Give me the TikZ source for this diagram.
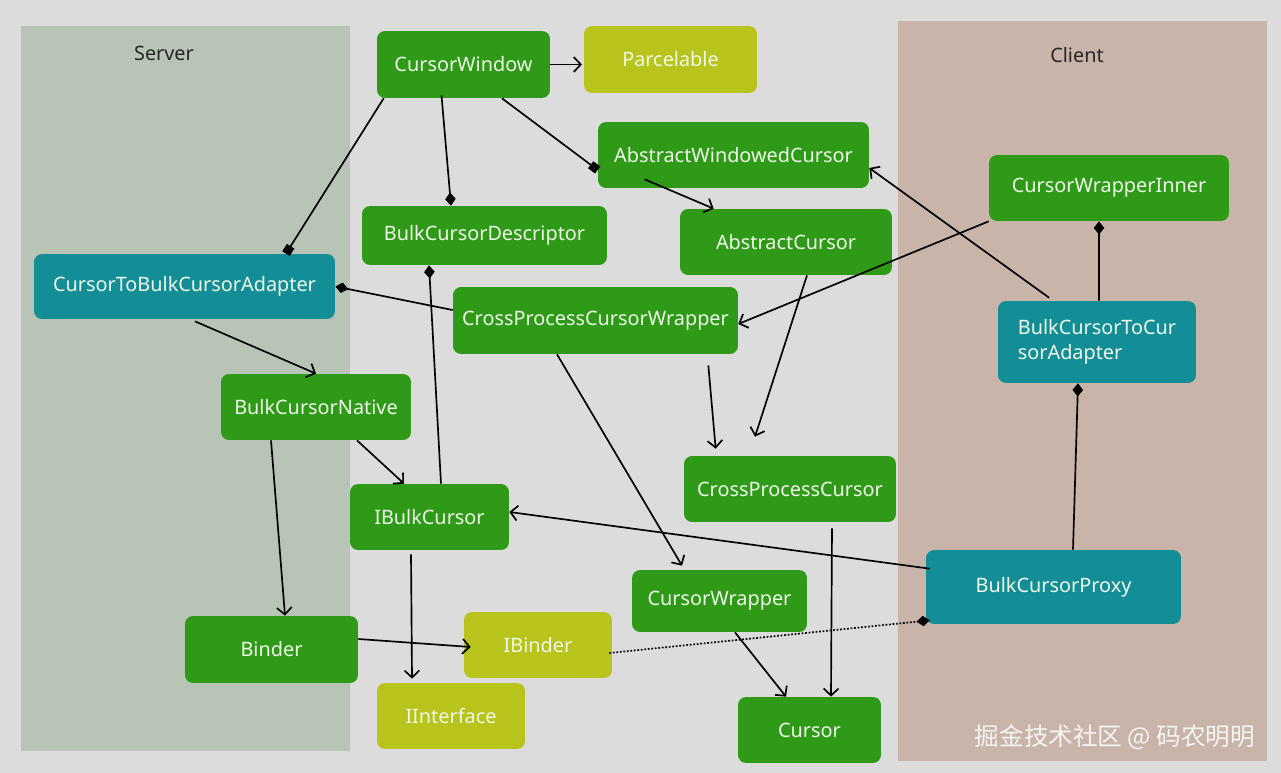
\documentclass[tikz,border=0pt]{standalone}
\usepackage{fontspec}
\setmainfont{Noto Sans}
\newfontfamily\cjkfont{Noto Sans CJK SC}
\usetikzlibrary{positioning}
\usetikzlibrary{arrows.meta}

\definecolor{bggray}{HTML}{DCDCDC}
\definecolor{servergray}{HTML}{B7C4B6}
\definecolor{clientbeige}{HTML}{C8B4A8}
\definecolor{clsgreen}{HTML}{2E9A17}
\definecolor{ifyellow}{HTML}{B8C41C}
\definecolor{rmteal}{HTML}{138E96}
\definecolor{clstext}{HTML}{EEF7E8}

\tikzset{
  cls/.style={rounded corners=0.16cm, fill=clsgreen, text=clstext, inner sep=1pt,
    font=\fontsize{11.3}{14}\selectfont},
  iface/.style={cls, fill=ifyellow},
  remote/.style={cls, fill=rmteal},
  side/.style={font=\fontsize{11.3}{14}\selectfont, text=black!85},
  link/.style={black, line width=0.95pt},
  inherit/.style={link, -{Straight Barb[length=4pt,width=8.5pt]}},
  owns/.style={link, -{Diamond[length=7.5pt,width=6pt]}},
  holds/.style={link, -{Square[length=5pt,width=5pt]}},
  dotlink/.style={dash pattern=on 1pt off 1pt},
}

\begin{document}
\begin{tikzpicture}[x=0.02cm, y=-0.02cm]

\useasboundingbox (0,0) rectangle (1281,773);
\fill[bggray] (0,0) rectangle (1281,773);

% sides
\fill[servergray] (21,26) rectangle (350,751);
\fill[clientbeige] (898,21) rectangle (1267,761);
\node[side] (server) at (164,53) {Server};
\node[side] (client) at (1077,55) {Client};

% classes
{
\node[cls, minimum width=3.46cm, minimum height=1.34cm] (cw) at (463.5,64.5) {CursorWindow};
\node[iface, minimum width=3.46cm, minimum height=1.34cm] (parc) at (670.5,59.5) {Parcelable};
\node[cls, minimum width=5.42cm, minimum height=1.32cm] (awc) at (733.5,155) {AbstractWindowedCursor};
\node[cls, minimum width=4.8cm, minimum height=1.32cm] (cwi) at (1109,188) {CursorWrapperInner};
\node[cls, minimum width=4.9cm, minimum height=1.18cm] (bcd) at (484.5,235.5) {BulkCursorDescriptor};
\node[cls, minimum width=4.24cm, minimum height=1.32cm] (ac) at (786,242) {AbstractCursor};
\node[remote, minimum width=6.02cm, minimum height=1.3cm] (ctbca) at (184.5,286.5) {CursorToBulkCursorAdapter};
\node[cls, minimum width=5.7cm, minimum height=1.34cm] (cpcw) at (595.5,320.5) {CrossProcessCursorWrapper};
\node[remote, minimum width=3.96cm, minimum height=1.64cm, align=left] (bctca) at (1097,342) {BulkCursorToCur\\sorAdapter};
\node[cls, minimum width=3.8cm, minimum height=1.32cm] (bcn) at (316,407) {BulkCursorNative};
\node[cls, minimum width=4.24cm, minimum height=1.32cm] (cpc) at (790,489) {CrossProcessCursor};
\node[cls, minimum width=3.18cm, minimum height=1.32cm] (ibc) at (429.5,517) {IBulkCursor};
\node[remote, minimum width=5.1cm, minimum height=1.48cm] (bcp) at (1053.5,587) {BulkCursorProxy};
\node[cls, minimum width=3.5cm, minimum height=1.24cm] (cwr) at (719.5,601) {CursorWrapper};
\node[cls, minimum width=3.46cm, minimum height=1.34cm] (binder) at (271.5,649.5) {Binder};
\node[iface, minimum width=2.96cm, minimum height=1.32cm] (ibinder) at (538,645) {IBinder};
\node[iface, minimum width=2.96cm, minimum height=1.32cm] (iif) at (451,716) {IInterface};
\node[cls, minimum width=2.86cm, minimum height=1.32cm] (cur) at (809.5,730) {Cursor};
}

% links
{
\draw[inherit, shorten >=1pt] (cw.east) -- (cw.east -| parc.west);
\draw[holds] ([xshift=0.14cm]cw.south west) -- ([xshift=2.03cm]ctbca.north);
\draw[owns] ([xshift=-0.44cm,yshift=0.06cm]cw.south) -- ([xshift=-0.67cm]bcd.north);
\draw[holds] ([xshift=0.77cm]cw.south) -- ([yshift=-0.3cm]awc.west);
\draw[inherit] ([xshift=0.94cm,yshift=0.18cm]awc.south west) -- ([xshift=0.68cm]ac.north west);

\draw[inherit] (cwi.south west) -- ([yshift=-0.07cm]cpcw.east);
\draw[inherit] ([xshift=-0.96cm,yshift=0.06cm]bctca.north) -- ([yshift=-0.26cm]awc.east);
\draw[owns] ([xshift=0.04cm]bctca.north) -- ([xshift=-0.2cm]cwi.south);
\draw[owns] ([yshift=0.21cm]cpcw.west) -- (ctbca.east);
\draw[owns] ([xshift=0.23cm]ibc.north) -- ([xshift=-1.11cm]bcd.south);

\draw[inherit] ([xshift=0.21cm,yshift=-0.04cm]ctbca.south) -- (bcn.north);
\draw[inherit] ([xshift=0.42cm]ac.south) -- ([xshift=-0.7cm,yshift=0.38cm]cpc.north);
\draw[inherit] ([xshift=-0.6cm,yshift=-0.22cm]cpcw.south east) -- ([xshift=0.64cm,yshift=0.14cm]cpc.north west);
\draw[inherit] ([xshift=-0.77cm]cpcw.south) -- ([xshift=-0.75cm,yshift=0.08cm]cwr.north);
\draw[inherit] ([xshift=0.82cm]bcn.south) -- ([xshift=-0.51cm]ibc.north);
\draw[inherit] ([xshift=-0.9cm]bcn.south) -- ([xshift=0.27cm]binder.north);

\draw[inherit] ([xshift=0.08cm,yshift=-0.38cm]bcp.north west) -- ([yshift=0.1cm]ibc.east);
\draw[owns] ([xshift=0.39cm]bcp.north) -- ([xshift=-0.38cm]bctca.south);
\draw[inherit] ([xshift=-0.37cm,yshift=-0.08cm]ibc.south) -- ([xshift=-0.78cm,yshift=0.08cm]iif.north);
\draw[inherit] ([yshift=0.21cm]binder.east) -- ([xshift=0.14cm,yshift=-0.04cm]ibinder.west);
\draw[owns, dotlink] ([xshift=-0.06cm,yshift=-0.16cm]ibinder.east) -- ([xshift=0.08cm,yshift=0.08cm]bcp.south west);
\draw[inherit] ([xshift=0.84cm,yshift=-0.12cm]cpc.south) -- ([xshift=0.43cm]cur.north);
\draw[inherit] ([xshift=0.31cm]cwr.south) -- ([xshift=-0.47cm]cur.north);
}

\node[text=white!92!gray, font=\cjkfont\fontsize{14}{16}\selectfont] (mark) at (1115,737) {掘金技术社区 @ 码农明明};

\end{tikzpicture}
\end{document}
